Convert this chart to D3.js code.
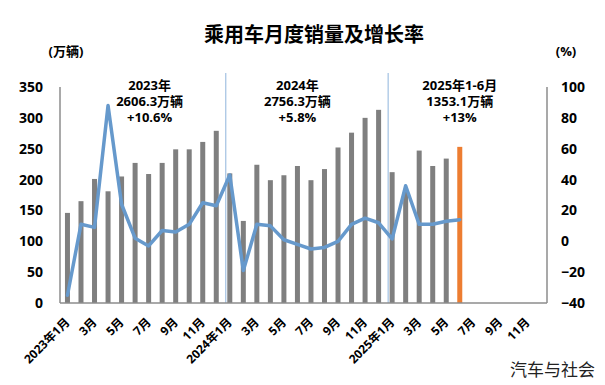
<!DOCTYPE html>
<html>
<head>
<meta charset="utf-8">
<script src="https://cdn.jsdelivr.net/npm/d3@7"></script>
<style>
  body { margin: 0; background: #fff; }
  svg text { font-family: "Open Sans", "Noto Sans CJK SC", sans-serif; }
</style>
</head>
<body>
<svg width="605" height="385"></svg>
<script>
// months on the x axis (2023-01 .. 2025-12)
const categories = [
  "2023-01","2023-02","2023-03","2023-04","2023-05","2023-06","2023-07","2023-08","2023-09","2023-10","2023-11","2023-12",
  "2024-01","2024-02","2024-03","2024-04","2024-05","2024-06","2024-07","2024-08","2024-09","2024-10","2024-11","2024-12",
  "2025-01","2025-02","2025-03","2025-04","2025-05","2025-06","2025-07","2025-08","2025-09","2025-10","2025-11","2025-12"
];
const tickLabels = [
  "2023年1月","3月","5月","7月","9月","11月",
  "2024年1月","3月","5月","7月","9月","11月",
  "2025年1月","3月","5月","7月","9月","11月"
];
// monthly sales, 万辆
const sales = [
  146, 165, 201, 181, 205, 227, 209, 227, 249, 249, 261, 279,
  210, 133, 224, 199, 207, 222, 199, 217, 252, 276, 300, 313,
  212, 181, 247, 222, 234, 253
];
// year-on-year growth, %
const growth = [
  -35, 11, 9, 88, 24, 2, -3, 7, 6, 11, 25, 23,
  43, -19, 11, 10, 1, -2, -5, -4, 0, 11, 15, 12,
  1.5, 36, 11, 11, 13, 14
];
const leftTicks = [0, 50, 100, 150, 200, 250, 300, 350];
const rightTicks = [-40, -20, 0, 20, 40, 60, 80, 100];
const yearNotes = [
  ["2023年", "2606.3万辆", "+10.6%"],
  ["2024年", "2756.3万辆", "+5.8%"],
  ["2025年1-6月", "1353.1万辆", "+13%"]
];
const noteAt = ["2023-07", "2024-06", "2025-06"];
const yearStarts = ["2024-01", "2025-01"];

const svg = d3.select("svg");
const plotL = 60, plotR = 547, plotT = 87, plotB = 303;

const x = d3.scaleBand().domain(categories).range([plotL + 0.7, plotR + 0.7]);
const yL = d3.scaleLinear().domain([0, 350]).range([plotB, plotT]);
const yR = d3.scaleLinear().domain([-40, 100]).range([plotB, plotT]);
const cx = d => x(d) + x.bandwidth() / 2;

// title
svg.append("text")
  .attr("x", 314).attr("y", 42)
  .attr("text-anchor", "middle")
  .style("font-family", "'Noto Sans CJK SC', sans-serif")
  .style("font-size", "20px").style("font-weight", 700)
  .text("乘用车月度销量及增长率");

// unit labels
svg.append("text").attr("x", 66).attr("y", 56).attr("text-anchor", "middle")
  .style("font-size", "13px").style("font-weight", 700).text("(万辆)");
svg.append("text").attr("x", 566).attr("y", 56).attr("text-anchor", "middle")
  .style("font-size", "13px").style("font-weight", 700).text("(%)");

// year separators
svg.selectAll(".sep")
  .data(yearStarts)
  .enter().append("line")
  .attr("x1", d => cx(d) - 4).attr("x2", d => cx(d) - 4)
  .attr("y1", 73).attr("y2", plotB)
  .attr("stroke", "#8fb4dc").attr("stroke-width", 1);

// bars
svg.selectAll(".bar")
  .data(sales)
  .enter().append("rect")
  .attr("x", (d, i) => cx(categories[i]) - 2.5)
  .attr("width", 5)
  .attr("y", d => yL(d))
  .attr("height", d => yL(0) - yL(d))
  .attr("fill", (d, i) => i === sales.length - 1 ? "#ed7d31" : "#7f7f7f");

// growth line
const line = d3.line()
  .x((d, i) => cx(categories[i]))
  .y(d => yR(d));
svg.append("path")
  .datum(growth)
  .attr("d", line)
  .attr("fill", "none")
  .attr("stroke", "#6699cc")
  .attr("stroke-width", 3.5)
  .attr("stroke-linejoin", "round")
  .attr("stroke-linecap", "round");

// axis frame
const axisColor = "#8c8c8c";
svg.append("line").attr("x1", plotL).attr("x2", plotL).attr("y1", plotT).attr("y2", plotB)
  .attr("stroke", axisColor).attr("stroke-width", 1.5);
svg.append("line").attr("x1", plotR).attr("x2", plotR).attr("y1", plotT).attr("y2", plotB)
  .attr("stroke", axisColor).attr("stroke-width", 1.5);
svg.append("line").attr("x1", plotL).attr("x2", plotR).attr("y1", plotB).attr("y2", plotB)
  .attr("stroke", axisColor).attr("stroke-width", 1.5);

// left axis labels
const gL = svg.append("g").attr("transform", `translate(${plotL},0)`)
  .call(d3.axisLeft(yL).tickValues(leftTicks).tickSize(0).tickPadding(17));
gL.select(".domain").remove();
gL.selectAll("text").style("font-size", "14px").style("font-weight", 700).attr("fill", "#000");

// right axis labels
const gR = svg.append("g").attr("transform", `translate(${plotR},0)`)
  .call(d3.axisRight(yR).tickValues(rightTicks).tickSize(0).tickPadding(14));
gR.select(".domain").remove();
gR.selectAll("text").style("font-size", "14px").style("font-weight", 700).attr("fill", "#000");

// x labels, every other month
svg.selectAll(".xl")
  .data(tickLabels)
  .enter().append("text")
  .attr("transform", (d, i) => `translate(${cx(categories[i * 2]) + 3},${plotB + 20}) rotate(-45)`)
  .attr("text-anchor", "end")
  .style("font-size", "12px").style("font-weight", 700)
  .text(d => d);

// yearly totals
yearNotes.forEach((lines, k) => {
  const t = svg.append("text")
    .attr("x", cx(noteAt[k]) + (k === 0 ? 1 : 0))
    .attr("y", 89.5)
    .attr("text-anchor", "middle")
    .style("font-size", "13px").style("font-weight", 700);
  lines.forEach((s, j) => {
    t.append("tspan").attr("x", t.attr("x")).attr("dy", j === 0 ? 0 : 16).text(s);
  });
});

// source
svg.append("text")
  .attr("x", 595).attr("y", 376)
  .attr("text-anchor", "end")
  .style("font-family", "'Noto Sans CJK SC', sans-serif")
  .style("font-size", "17px").attr("fill", "#222")
  .text("汽车与社会");
</script>
</body>
</html>
